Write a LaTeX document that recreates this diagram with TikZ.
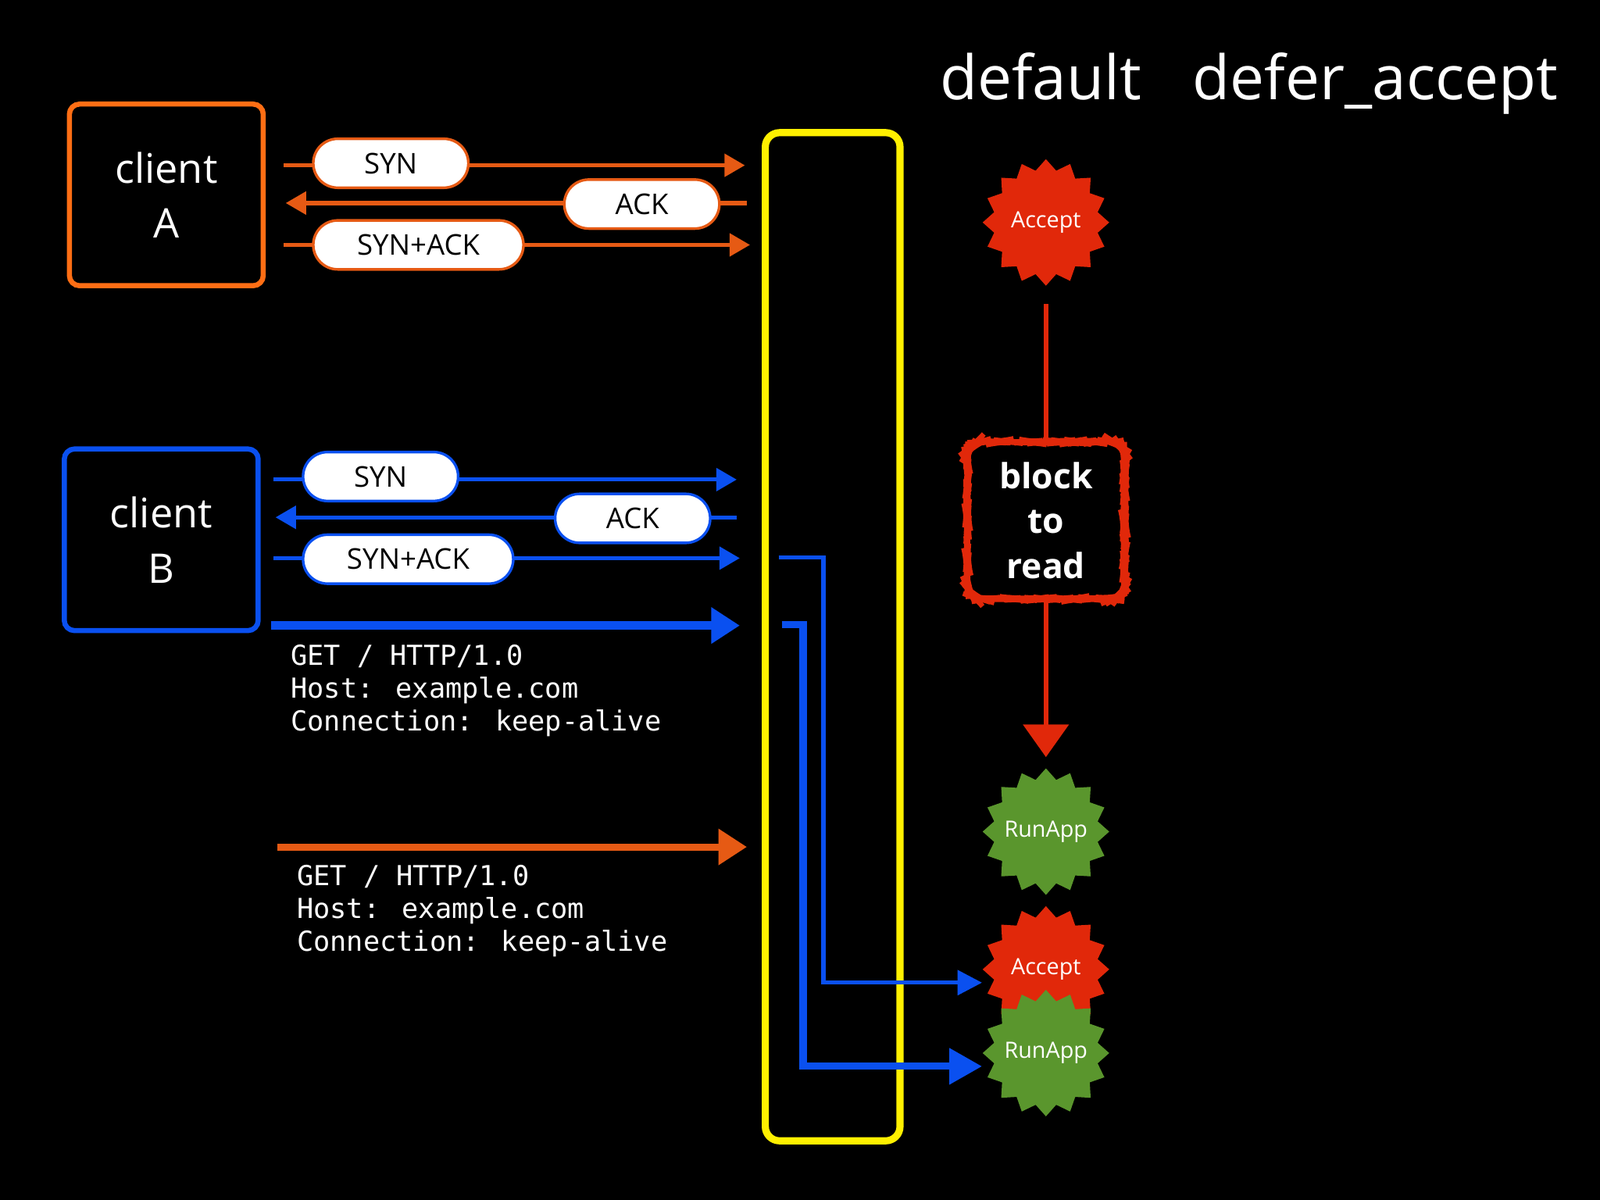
\documentclass[tikz,border=0pt]{standalone}
\usepackage{fontspec}
\setmainfont{Open Sans}
\newfontfamily\monof{DejaVu Sans Mono}
\usetikzlibrary{arrows.meta,shapes.geometric,decorations.pathmorphing}
\definecolor{orA}{RGB}{230,90,20}
\definecolor{orB}{RGB}{255,110,20}
\definecolor{blB}{RGB}{10,80,240}
\definecolor{ylw}{RGB}{255,240,0}
\definecolor{redS}{RGB}{225,40,10}
\definecolor{grnS}{RGB}{90,150,45}
\tikzset{
  client/.style={draw, line width=2.5pt, rounded corners=5pt, minimum width=95pt, minimum height=89pt,
    align=center, text=white, font=\fontsize{20}{27}\selectfont},
  pill/.style={draw=#1, fill=white, line width=1.3pt, rounded corners=12pt, minimum height=24pt,
    inner xsep=8pt, font=\fontsize{14}{16}\selectfont, text=black},
  msg/.style={draw=#1, line width=2pt, -{Triangle[length=10pt,width=11pt]}},
  big/.style={draw=#1, line width=4pt, -{Triangle[length=14pt,width=17pt]}},
  req/.style={anchor=north west, align=left, text=white, font=\monof\fontsize{13.5}{16}\selectfont},
  burst/.style 2 args={star, star points=16, star point ratio=1.2, minimum size=62pt, inner sep=0pt,
    fill=#1, label={[text=white, font=\fontsize{11}{13}\selectfont]center:#2}},
  title/.style={text=white, anchor=base, font=\fontsize{30}{36}\selectfont},
}
\begin{document}
\begin{tikzpicture}[x=0.5pt,y=-0.5pt]
\fill[black] (0,0) rectangle (1568,1176);
\useasboundingbox (0,0) rectangle (1568,1176);

\node[title] (tdef) at (1020,98) {default};
\node[title] (tdefer) at (1348,98) {defer\_accept};

% server column
\node[draw=ylw, line width=3.5pt, rounded corners=7pt, minimum width=66pt, minimum height=494pt] (srv) at (816,624) {};

% client A
\node[client, draw=orB] (ca) at (163,191) {client\\A};
\coordinate (a1s) at (278,162); \coordinate (a1e) at (730,162);
\coordinate (a2s) at (732,199); \coordinate (a2e) at (280,199);
\coordinate (a3s) at (278,240); \coordinate (a3e) at (735,240);
\draw[msg=orA] (a1s) -- (a1e);
\draw[msg=orA] (a2s) -- (a2e);
\draw[msg=orA] (a3s) -- (a3e);
\node[pill=orA, minimum width=76pt] (pa1) at (383,160) {SYN};
\node[pill=orA, minimum width=76pt] (pa2) at (629,200) {ACK};
\node[pill=orA, minimum width=103pt] (pa3) at (410,240) {SYN+ACK};

% client B
\node[client, draw=blB] (cb) at (158,529) {client\\B};
\coordinate (b1s) at (268,470); \coordinate (b1e) at (722,470);
\coordinate (b2s) at (722,507); \coordinate (b2e) at (270,507);
\coordinate (b3s) at (268,547); \coordinate (b3e) at (725,547);
\draw[msg=blB] (b1s) -- (b1e);
\draw[msg=blB] (b2s) -- (b2e);
\draw[msg=blB] (b3s) -- (b3e);
\node[pill=blB, minimum width=76pt] (pb1) at (373,467) {SYN};
\node[pill=blB, minimum width=76pt] (pb2) at (620,508) {ACK};
\node[pill=blB, minimum width=103pt] (pb3) at (400,548) {SYN+ACK};

\coordinate (b4s) at (266,613); \coordinate (b4e) at (725,613);
\draw[big=blB] (b4s) -- (b4e);
\node[req] (rb) at (278,625) {GET / HTTP/1.0\\Host: example.com\\Connection: keep-alive};

\coordinate (a4s) at (272,830); \coordinate (a4e) at (732,830);
\draw[big=orA, line width=3.5pt] (a4s) -- (a4e);
\node[req] (ra) at (284,841) {GET / HTTP/1.0\\Host: example.com\\Connection: keep-alive};

% default column
\node[burst={redS}{Accept}] (acc1) at (1025,218) {};
\node[draw=redS, line width=2.5pt, rounded corners=8pt, minimum width=77pt, minimum height=77pt,
  align=center, text=white, font=\bfseries\fontsize{17}{22}\selectfont,
  decorate, decoration={random steps, segment length=2pt, amplitude=0.3pt}] (blk) at (1025,510) {block\\to\\read};
\node[burst={grnS}{RunApp}] (run1) at (1025,815) {};
\draw[draw=redS, line width=2.5pt] (1025,298) -- (blk.north);
\draw[draw=redS, line width=2.5pt, -{Triangle[length=16pt,width=22pt]}] (blk.south) -- (1025,742);

% defer_accept
\node[burst={redS}{Accept}] (acc2) at (1025,950) {};
\node[burst={grnS}{RunApp}] (run2) at (1025,1032) {};
\draw[draw=blB, line width=2pt, -{Triangle[length=12pt,width=12pt]}] (763,546) -- (807,546) -- (807,963) -- (acc2.west |- 0,963);
\draw[draw=blB, line width=3.5pt, -{Triangle[length=16pt,width=17pt]}] (766,612) -- (787,612) -- (787,1045) -- (run2.west |- 0,1045);
\end{tikzpicture}
\end{document}
